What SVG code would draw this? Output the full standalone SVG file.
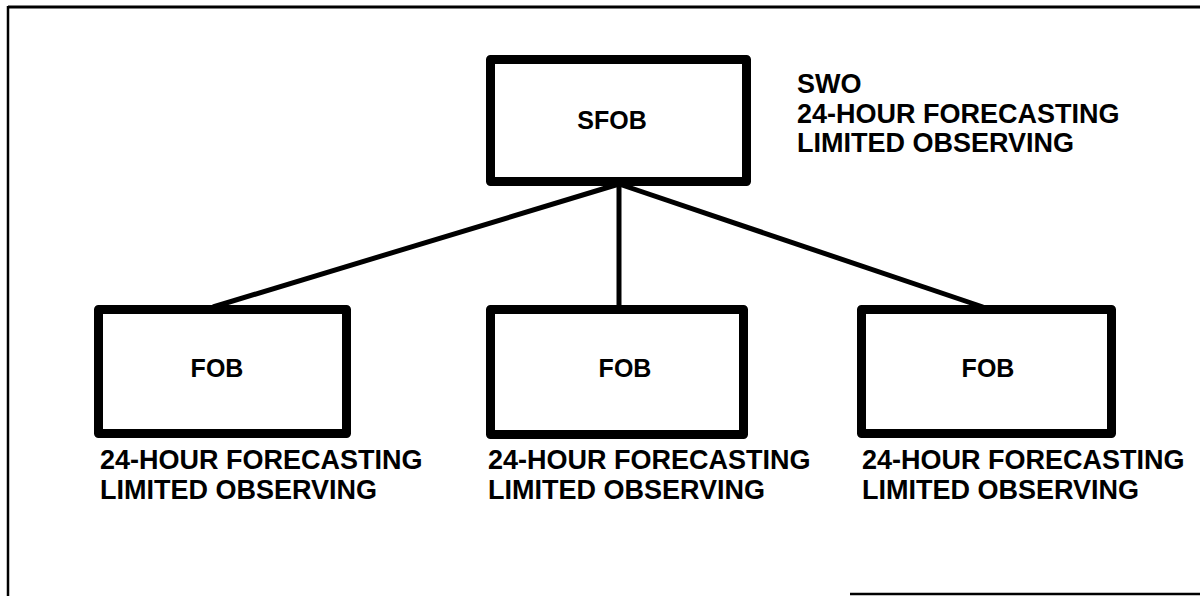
<svg xmlns="http://www.w3.org/2000/svg" width="1200" height="596" viewBox="0 0 1200 596">
<style>
.box{fill:#fff;stroke:#000;stroke-width:9;stroke-linejoin:round}
.conn{stroke:#000;stroke-width:5;fill:none}
.frame{stroke:#000;fill:none}
.lbl{font-family:"Liberation Sans",Arial,sans-serif;font-weight:bold;font-size:27px;fill:#000}
.name{font-family:"Liberation Sans",Arial,sans-serif;font-weight:bold;font-size:25px;fill:#000;text-anchor:middle}
</style>
<rect width="1200" height="596" fill="#fff"/>
<g id="frame">
<line class="frame" x1="8" y1="7" x2="1200" y2="7" stroke-width="3"/>
<line class="frame" x1="8" y1="6" x2="8" y2="596" stroke-width="2.5"/>
<line class="frame" x1="850" y1="594" x2="1200" y2="594" stroke-width="2.5"/>
</g>
<g id="connectors">
<line class="conn" x1="619" y1="184" x2="213" y2="307"/>
<line class="conn" x1="619" y1="184" x2="619" y2="307"/>
<line class="conn" x1="619" y1="184" x2="983" y2="307"/>
</g>
<g id="sfob">
<rect class="box" x="490.5" y="59.5" width="256" height="122"/>
<text class="name" x="612" y="129" font-size="24">SFOB</text>
<text class="lbl" x="797" y="93">SWO</text>
<text class="lbl" x="797" y="123">24-HOUR FORECASTING</text>
<text class="lbl" x="797" y="152">LIMITED OBSERVING</text>
</g>
<g id="fob1">
<rect class="box" x="98.5" y="309.5" width="248" height="124"/>
<text class="name" x="217" y="377">FOB</text>
<text class="lbl" x="100" y="469">24-HOUR FORECASTING</text>
<text class="lbl" x="100" y="499">LIMITED OBSERVING</text>
</g>
<g id="fob2">
<rect class="box" x="490.5" y="309.5" width="253" height="125"/>
<text class="name" x="625" y="377">FOB</text>
<text class="lbl" x="488" y="469">24-HOUR FORECASTING</text>
<text class="lbl" x="488" y="499">LIMITED OBSERVING</text>
</g>
<g id="fob3">
<rect class="box" x="861.5" y="309.5" width="250" height="124"/>
<text class="name" x="988" y="377">FOB</text>
<text class="lbl" x="862" y="469">24-HOUR FORECASTING</text>
<text class="lbl" x="862" y="499">LIMITED OBSERVING</text>
</g>
</svg>
